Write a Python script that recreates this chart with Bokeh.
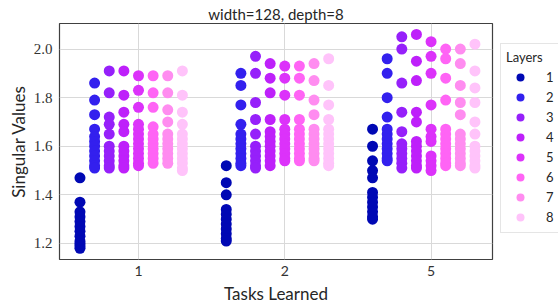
from bokeh.plotting import figure
from bokeh.models import ColumnDataSource, FixedTicker, PrintfTickFormatter, Legend, LegendItem, Range1d
from bokeh.embed import file_html
from bokeh.resources import INLINE

tasks = ["1", "2", "5"]
layers = ["1", "2", "3", "4", "5", "6", "7", "8"]
colors = ["#0008b4", "#3320ee", "#9620fa", "#be20fa", "#dc32fa", "#ff64f5", "#ff8cf0", "#ffc3fa"]

# Singular values per task (1, 2, 5) and layer (1..8)
t1_l1 = [1.47, 1.37, 1.33, 1.31, 1.29, 1.27, 1.25, 1.23, 1.21, 1.20, 1.19, 1.18]
t1_l2 = [1.86, 1.79, 1.73, 1.67, 1.64, 1.62, 1.60, 1.58, 1.56, 1.54, 1.52, 1.51]
t1_l3 = [1.91, 1.82, 1.72, 1.69, 1.65, 1.60, 1.58, 1.56, 1.54, 1.52, 1.51]
t1_l4 = [1.91, 1.81, 1.74, 1.69, 1.66, 1.60, 1.58, 1.56, 1.54, 1.52, 1.51]
t1_l5 = [1.89, 1.83, 1.76, 1.69, 1.67, 1.65, 1.63, 1.61, 1.59, 1.57, 1.55, 1.53, 1.52]
t1_l6 = [1.89, 1.82, 1.76, 1.68, 1.65, 1.63, 1.61, 1.59, 1.57, 1.55, 1.53]
t1_l7 = [1.89, 1.82, 1.75, 1.70, 1.65, 1.63, 1.61, 1.59, 1.57, 1.55, 1.53]
t1_l8 = [1.91, 1.81, 1.74, 1.69, 1.65, 1.63, 1.61, 1.59, 1.57, 1.55, 1.53, 1.51, 1.50]

t2_l1 = [1.52, 1.45, 1.40, 1.34, 1.32, 1.30, 1.28, 1.26, 1.24, 1.22, 1.21]
t2_l2 = [1.90, 1.85, 1.77, 1.69, 1.65, 1.63, 1.61, 1.59, 1.57, 1.55, 1.53, 1.52]
t2_l3 = [1.97, 1.90, 1.78, 1.71, 1.65, 1.60, 1.58, 1.56, 1.54, 1.52, 1.51]
t2_l4 = [1.94, 1.88, 1.82, 1.71, 1.66, 1.64, 1.62, 1.60, 1.58, 1.56, 1.54, 1.52]
t2_l5 = [1.93, 1.88, 1.81, 1.71, 1.67, 1.65, 1.63, 1.61, 1.59, 1.57, 1.55, 1.54]
t2_l6 = [1.93, 1.88, 1.81, 1.71, 1.67, 1.65, 1.63, 1.61, 1.59, 1.57, 1.55, 1.54]
t2_l7 = [1.94, 1.87, 1.79, 1.73, 1.67, 1.65, 1.63, 1.61, 1.59, 1.57, 1.55, 1.54]
t2_l8 = [1.96, 1.85, 1.77, 1.71, 1.67, 1.65, 1.63, 1.61, 1.59, 1.57, 1.55, 1.53, 1.52]

t5_l1 = [1.67, 1.60, 1.54, 1.50, 1.47, 1.41, 1.39, 1.37, 1.35, 1.33, 1.31, 1.30]
t5_l2 = [1.96, 1.90, 1.80, 1.72, 1.67, 1.65, 1.63, 1.61, 1.59, 1.57, 1.55, 1.54]
t5_l3 = [2.05, 2.00, 1.86, 1.74, 1.66, 1.61, 1.59, 1.57, 1.55, 1.53, 1.51]
t5_l4 = [2.06, 1.95, 1.87, 1.74, 1.70, 1.62, 1.60, 1.58, 1.56, 1.54, 1.52, 1.51]
t5_l5 = [2.03, 1.97, 1.90, 1.77, 1.67, 1.64, 1.62, 1.56, 1.54, 1.52, 1.50]
t5_l6 = [2.00, 1.96, 1.88, 1.79, 1.67, 1.65, 1.63, 1.61, 1.59, 1.57, 1.55, 1.53, 1.52]
t5_l7 = [2.00, 1.94, 1.85, 1.78, 1.73, 1.65, 1.63, 1.61, 1.59, 1.57, 1.55, 1.53, 1.52]
t5_l8 = [2.02, 1.91, 1.84, 1.78, 1.70, 1.65, 1.60, 1.58, 1.56, 1.54, 1.52, 1.51]

y_ticks = [1.2, 1.4, 1.6, 1.8, 2.0]

per_task = [
    [t1_l1, t1_l2, t1_l3, t1_l4, t1_l5, t1_l6, t1_l7, t1_l8],
    [t2_l1, t2_l2, t2_l3, t2_l4, t2_l5, t2_l6, t2_l7, t2_l8],
    [t5_l1, t5_l2, t5_l3, t5_l4, t5_l5, t5_l6, t5_l7, t5_l8],
]

FONT = "Lato"
SERIF = "Liberation Serif"

p = figure(frame_width=433, frame_height=236, output_backend="svg", toolbar_location=None,
           x_range=Range1d(-0.54, 2.42), y_range=Range1d(1.134, 2.105),
           min_border_left=59, min_border_right=66, min_border_top=23, min_border_bottom=44)
p.background_fill_color = "white"
p.border_fill_color = "white"
p.outline_line_color = "#404040"
p.outline_line_width = 1.2

p.title.text = "width=128, depth=8"
p.title.align = "center"
p.title.text_font = FONT
p.title.text_font_size = "15px"
p.title.text_font_style = "normal"
p.title.text_color = "#262626"
p.title.standoff = 2
p.title.offset = 0

# dodge offsets for hue levels
dodge_width = 0.1
items = []
for li, layer in enumerate(layers):
    xs, ys = [], []
    for ti in range(len(tasks)):
        vals = per_task[ti][li]
        xs += [ti - 0.4 + dodge_width * li] * len(vals)
        ys += vals
    src = ColumnDataSource(dict(x=xs, y=ys))
    r = p.scatter("x", "y", source=src, size=11, fill_color=colors[li], line_color=None)
    items.append(LegendItem(label=layer, renderers=[r]))

p.xaxis.ticker = FixedTicker(ticks=[0, 1, 2])
p.xaxis.major_label_overrides = {0: "1", 1: "2", 2: "5"}
p.yaxis.ticker = FixedTicker(ticks=y_ticks)
p.yaxis.formatter = PrintfTickFormatter(format="%.1f")

for ax in (p.xaxis, p.yaxis):
    ax.axis_line_color = None
    ax.major_tick_line_color = None
    ax.minor_tick_line_color = None
    ax.major_tick_out = 0
    ax.major_tick_in = 0
    ax.minor_tick_out = 0
    ax.minor_tick_in = 0
    ax.major_label_text_color = "#333333"
    ax.axis_label_text_font = FONT
    ax.axis_label_text_font_size = "17px"
    ax.axis_label_text_font_style = "normal"
    ax.axis_label_text_color = "#262626"

p.xaxis.major_label_text_font = FONT
p.xaxis.major_label_text_font_size = "14px"
p.yaxis.major_label_text_font = SERIF
p.yaxis.major_label_text_font_size = "15px"

p.xaxis.major_label_standoff = 6
p.yaxis.major_label_standoff = 7
p.xaxis.axis_label = "Tasks Learned"
p.yaxis.axis_label = "Singular Values"
p.xaxis.axis_label_standoff = 4
p.yaxis.axis_label_standoff = 2

p.xgrid.grid_line_color = "#d9d9d9"
p.ygrid.grid_line_color = "#d9d9d9"
p.xgrid.grid_line_width = 1
p.ygrid.grid_line_width = 1

legend = Legend(items=items, location=(8, 26), title="Layers",
                title_text_font=FONT, title_text_font_size="13px", title_text_font_style="normal",
                title_text_color="#262626", title_standoff=2,
                label_text_font=FONT, label_text_font_size="13px", label_text_color="#262626",
                glyph_width=28, glyph_height=20, label_height=20, label_standoff=12,
                spacing=0, padding=5, margin=3,
                border_line_color="#cccccc", border_line_width=1,
                background_fill_color="white", background_fill_alpha=1.0)
p.add_layout(legend, "right")

open("out.html", "w").write(file_html(p, INLINE))
